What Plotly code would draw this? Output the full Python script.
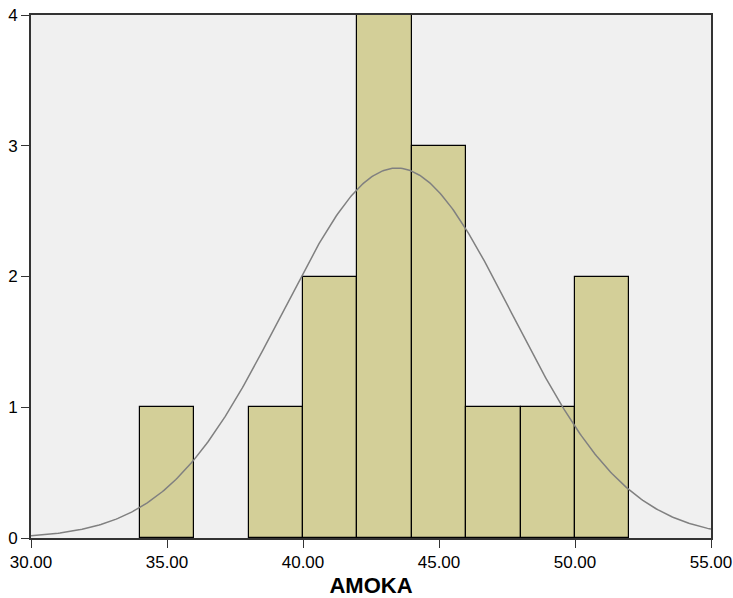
import numpy as np
import plotly.graph_objects as go

# Histogram bins (width 2) and counts for AMOKA
bin_left = [34, 36, 38, 40, 42, 44, 46, 48, 50]
counts = [1, 0, 1, 2, 4, 3, 1, 1, 2]
bin_width = 2

# Fitted normal curve parameters
mean_val = 43.45
sd_val = 4.23
n_obs = sum(counts)

x_ticks = [30, 35, 40, 45, 50, 55]
y_ticks = [0, 1, 2, 3, 4]

centers = [b + bin_width / 2 for b in bin_left]
# empty bins get no outline
outline_w = [1.2 if c > 0 else 0 for c in counts]

xs = np.linspace(30, 55, 400)
ys = n_obs * bin_width / (sd_val * np.sqrt(2 * np.pi)) * np.exp(-0.5 * ((xs - mean_val) / sd_val) ** 2)

fig = go.Figure()
fig.add_trace(go.Bar(
    x=centers, y=counts, width=bin_width,
    marker=dict(color="#D3CF98", line=dict(color="#000000", width=outline_w)),
    hoverinfo="skip",
))
fig.add_trace(go.Scatter(
    x=xs, y=ys, mode="lines",
    line=dict(color="#808080", width=1.5),
    hoverinfo="skip",
))

axis_font = dict(family="Liberation Sans, Arial, sans-serif", size=17, color="#000000")
fig.update_layout(
    width=733, height=598,
    margin=dict(l=31, r=22, t=15, b=60),
    paper_bgcolor="#FFFFFF",
    plot_bgcolor="#F0F0F0",
    showlegend=False,
    bargap=0,
    xaxis=dict(
        range=[30, 55], tickvals=x_ticks, tickformat=".2f",
        showgrid=False, zeroline=False, automargin=False,
        showline=True, linecolor="#333333", linewidth=2, mirror=True,
        ticks="outside", ticklen=8, tickcolor="#333333", tickwidth=1,
        tickfont=axis_font,
        title=dict(text="<b>AMOKA</b>", font=dict(family="Liberation Sans, Arial, sans-serif", size=22, color="#000000"), standoff=9),
    ),
    yaxis=dict(
        range=[0, 4], tickvals=y_ticks,
        showgrid=False, zeroline=False, automargin=False,
        showline=True, linecolor="#333333", linewidth=2, mirror=True,
        ticks="outside", ticklen=8, tickcolor="#333333", tickwidth=1,
        tickfont=axis_font,
    ),
)

fig.write_html("out.html")
